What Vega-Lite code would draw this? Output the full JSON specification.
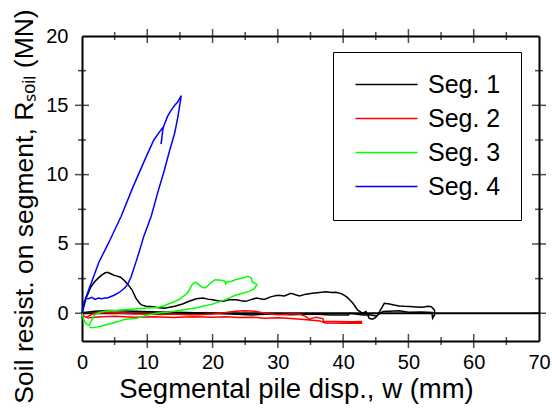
{
  "$schema": "https://vega.github.io/schema/vega-lite/v6.json",
  "width": 457,
  "height": 305,
  "autosize": {"type": "none"},
  "padding": {"left": 82, "top": 36, "right": 13, "bottom": 71},
  "background": "white",
  "datasets": {
    "frame": [{"x0": 0, "x1": 70, "z": 0}],
    "xmaj": [{"t": 10}, {"t": 20}, {"t": 30}, {"t": 40}, {"t": 50}, {"t": 60}],
    "xmin": [{"t": 5}, {"t": 15}, {"t": 25}, {"t": 35}, {"t": 45}, {"t": 55}, {"t": 65}],
    "ymaj": [{"t": 0}, {"t": 5}, {"t": 10}, {"t": 15}],
    "ymin": [{"t": 2.5}, {"t": 7.5}, {"t": 12.5}, {"t": 17.5}]
  },
  "config": {
    "view": {"stroke": null},
    "font": "Liberation Sans",
    "tick": {"color": "black", "thickness": 1.5, "clip": true},
    "axis": {
      "grid": false, "domainColor": "black", "domainWidth": 2, "ticks": false,
      "labelColor": "black", "titleColor": "black", "labelFont": "Liberation Sans", "titleFont": "Liberation Sans",
      "labelFontSize": 20, "titleFontSize": 27.5, "titleFontWeight": "normal", "labelFlush": false, "labelOverlap": false
    }
  },
  "layer": [
    {
      "data": {"name": "frame"},
      "mark": {"type": "rule", "color": "black", "strokeWidth": 2},
      "encoding": {
        "x": {"field": "x0", "type": "quantitative", "scale": {"domain": [0, 70], "nice": false, "zero": false},
          "axis": {"orient": "top", "values": [0, 70], "labels": false, "title": null}},
        "x2": {"field": "x1"},
        "y": {"field": "z", "type": "quantitative", "scale": {"domain": [-2, 20], "nice": false, "zero": false},
          "axis": {"orient": "right", "values": [0, 20], "labels": false, "title": null}}
      }
    },
    {
      "data": {"name": "xmaj"},
      "mark": {"type": "tick", "orient": "vertical", "size": 14},
      "encoding": {"x": {"field": "t", "type": "quantitative", "axis": null}, "y": {"datum": -2, "type": "quantitative", "axis": null}}
    },
    {
      "data": {"name": "xmaj"},
      "mark": {"type": "tick", "orient": "vertical", "size": 14},
      "encoding": {"x": {"field": "t", "type": "quantitative", "axis": null}, "y": {"datum": 20, "type": "quantitative", "axis": null}}
    },
    {
      "data": {"name": "xmin"},
      "mark": {"type": "tick", "orient": "vertical", "size": 8},
      "encoding": {"x": {"field": "t", "type": "quantitative", "axis": null}, "y": {"datum": -2, "type": "quantitative", "axis": null}}
    },
    {
      "data": {"name": "xmin"},
      "mark": {"type": "tick", "orient": "vertical", "size": 8},
      "encoding": {"x": {"field": "t", "type": "quantitative", "axis": null}, "y": {"datum": 20, "type": "quantitative", "axis": null}}
    },
    {
      "data": {"name": "ymaj"},
      "mark": {"type": "tick", "orient": "horizontal", "size": 14},
      "encoding": {"y": {"field": "t", "type": "quantitative", "axis": null}, "x": {"datum": 0, "type": "quantitative", "axis": null}}
    },
    {
      "data": {"name": "ymaj"},
      "mark": {"type": "tick", "orient": "horizontal", "size": 14},
      "encoding": {"y": {"field": "t", "type": "quantitative", "axis": null}, "x": {"datum": 70, "type": "quantitative", "axis": null}}
    },
    {
      "data": {"name": "ymin"},
      "mark": {"type": "tick", "orient": "horizontal", "size": 8},
      "encoding": {"y": {"field": "t", "type": "quantitative", "axis": null}, "x": {"datum": 0, "type": "quantitative", "axis": null}}
    },
    {
      "data": {"name": "ymin"},
      "mark": {"type": "tick", "orient": "horizontal", "size": 8},
      "encoding": {"y": {"field": "t", "type": "quantitative", "axis": null}, "x": {"datum": 70, "type": "quantitative", "axis": null}}
    },
    {
      "data": {"values": [
        {"s":"Seg. 1","w":0,"r":0},{"s":"Seg. 1","w":0.3,"r":0.5},{"s":"Seg. 1","w":0.6,"r":1.05},{"s":"Seg. 1","w":1.0,"r":1.5},{"s":"Seg. 1","w":1.35,"r":1.9},{"s":"Seg. 1","w":1.9,"r":2.25},{"s":"Seg. 1","w":2.4,"r":2.5},{"s":"Seg. 1","w":3.0,"r":2.75},{"s":"Seg. 1","w":3.5,"r":2.9},{"s":"Seg. 1","w":3.9,"r":2.95},{"s":"Seg. 1","w":4.4,"r":2.85},{"s":"Seg. 1","w":4.9,"r":2.74},{"s":"Seg. 1","w":5.4,"r":2.68},{"s":"Seg. 1","w":5.9,"r":2.6},{"s":"Seg. 1","w":6.4,"r":2.4},{"s":"Seg. 1","w":7.0,"r":2.1},{"s":"Seg. 1","w":7.4,"r":1.85},{"s":"Seg. 1","w":7.7,"r":1.66},{"s":"Seg. 1","w":8.0,"r":1.35},{"s":"Seg. 1","w":8.3,"r":1.05},{"s":"Seg. 1","w":8.7,"r":0.8},{"s":"Seg. 1","w":9.1,"r":0.6},{"s":"Seg. 1","w":9.8,"r":0.5},{"s":"Seg. 1","w":10.6,"r":0.48},{"s":"Seg. 1","w":11.5,"r":0.42},{"s":"Seg. 1","w":12.6,"r":0.36},{"s":"Seg. 1","w":13.4,"r":0.43},{"s":"Seg. 1","w":14.2,"r":0.5},{"s":"Seg. 1","w":15.4,"r":0.67},{"s":"Seg. 1","w":16.3,"r":0.85},{"s":"Seg. 1","w":17.5,"r":1.05},{"s":"Seg. 1","w":18.5,"r":1.1},{"s":"Seg. 1","w":19.3,"r":1.02},{"s":"Seg. 1","w":20.0,"r":0.98},{"s":"Seg. 1","w":20.8,"r":0.9},{"s":"Seg. 1","w":21.6,"r":0.86},{"s":"Seg. 1","w":22.6,"r":0.98},{"s":"Seg. 1","w":23.6,"r":0.98},{"s":"Seg. 1","w":24.4,"r":0.9},{"s":"Seg. 1","w":25.1,"r":0.86},{"s":"Seg. 1","w":26.0,"r":1.0},{"s":"Seg. 1","w":26.7,"r":1.1},{"s":"Seg. 1","w":27.9,"r":1.0},{"s":"Seg. 1","w":29.0,"r":1.2},{"s":"Seg. 1","w":30.0,"r":1.3},{"s":"Seg. 1","w":31.0,"r":1.25},{"s":"Seg. 1","w":32.0,"r":1.44},{"s":"Seg. 1","w":33.3,"r":1.25},{"s":"Seg. 1","w":34.3,"r":1.38},{"s":"Seg. 1","w":35.3,"r":1.44},{"s":"Seg. 1","w":36.4,"r":1.5},{"s":"Seg. 1","w":37.4,"r":1.56},{"s":"Seg. 1","w":38.2,"r":1.5},{"s":"Seg. 1","w":38.9,"r":1.52},{"s":"Seg. 1","w":39.8,"r":1.4},{"s":"Seg. 1","w":40.5,"r":1.2},{"s":"Seg. 1","w":41.0,"r":0.98},{"s":"Seg. 1","w":41.5,"r":0.72},{"s":"Seg. 1","w":41.9,"r":0.45},{"s":"Seg. 1","w":42.2,"r":0.24},{"s":"Seg. 1","w":43.0,"r":0.0},{"s":"Seg. 1","w":43.5,"r":0.12},{"s":"Seg. 1","w":44.0,"r":-0.36},{"s":"Seg. 1","w":44.5,"r":-0.43},{"s":"Seg. 1","w":45.0,"r":-0.3},{"s":"Seg. 1","w":45.3,"r":-0.12},{"s":"Seg. 1","w":45.8,"r":0.3},{"s":"Seg. 1","w":46.3,"r":0.72},{"s":"Seg. 1","w":47.1,"r":0.67},{"s":"Seg. 1","w":47.8,"r":0.6},{"s":"Seg. 1","w":48.6,"r":0.53},{"s":"Seg. 1","w":49.4,"r":0.5},{"s":"Seg. 1","w":50.2,"r":0.48},{"s":"Seg. 1","w":51.2,"r":0.45},{"s":"Seg. 1","w":52.2,"r":0.43},{"s":"Seg. 1","w":53.0,"r":0.5},{"s":"Seg. 1","w":53.5,"r":0.48},{"s":"Seg. 1","w":54.0,"r":0.24},{"s":"Seg. 1","w":54.0,"r":-0.12},{"s":"Seg. 1","w":53.7,"r":-0.36},{"s":"Seg. 1","w":53.6,"r":0.05},{"s":"Seg. 1","w":52.0,"r":0.1},{"s":"Seg. 1","w":50.0,"r":0.08},{"s":"Seg. 1","w":48.6,"r":0.19},{"s":"Seg. 1","w":46.1,"r":0.12},{"s":"Seg. 1","w":45.1,"r":-0.19},{"s":"Seg. 1","w":44.0,"r":-0.1},{"s":"Seg. 1","w":43.0,"r":-0.12},{"s":"Seg. 1","w":41.0,"r":0.0},{"s":"Seg. 1","w":40.8,"r":-0.12},{"s":"Seg. 1","w":38.4,"r":-0.12},{"s":"Seg. 1","w":35.0,"r":-0.05},{"s":"Seg. 1","w":32.0,"r":-0.1},{"s":"Seg. 1","w":29.0,"r":-0.05},{"s":"Seg. 1","w":26.0,"r":-0.12},{"s":"Seg. 1","w":23.0,"r":-0.05},{"s":"Seg. 1","w":20.0,"r":0.0},{"s":"Seg. 1","w":16.0,"r":0.05},{"s":"Seg. 1","w":12.0,"r":0.1},{"s":"Seg. 1","w":8.0,"r":0.15},{"s":"Seg. 1","w":4.0,"r":0.2},{"s":"Seg. 1","w":2.0,"r":0.15},{"s":"Seg. 1","w":1.0,"r":0.1},{"s":"Seg. 1","w":0.3,"r":0.05},
        {"s":"Seg. 2","w":0,"r":0},{"s":"Seg. 2","w":0.3,"r":-0.2},{"s":"Seg. 2","w":0.6,"r":-0.3},{"s":"Seg. 2","w":1.0,"r":-0.2},{"s":"Seg. 2","w":1.6,"r":-0.05},{"s":"Seg. 2","w":2.5,"r":0.0},{"s":"Seg. 2","w":4,"r":0.05},{"s":"Seg. 2","w":6,"r":0.0},{"s":"Seg. 2","w":8,"r":-0.05},{"s":"Seg. 2","w":10,"r":-0.05},{"s":"Seg. 2","w":12,"r":-0.08},{"s":"Seg. 2","w":14,"r":-0.05},{"s":"Seg. 2","w":16,"r":-0.1},{"s":"Seg. 2","w":18,"r":-0.1},{"s":"Seg. 2","w":20,"r":-0.05},{"s":"Seg. 2","w":22,"r":0.05},{"s":"Seg. 2","w":23.5,"r":0.15},{"s":"Seg. 2","w":25,"r":0.18},{"s":"Seg. 2","w":26.5,"r":0.15},{"s":"Seg. 2","w":28,"r":0.0},{"s":"Seg. 2","w":30,"r":-0.1},{"s":"Seg. 2","w":32,"r":-0.05},{"s":"Seg. 2","w":33.3,"r":-0.05},{"s":"Seg. 2","w":34.3,"r":-0.24},{"s":"Seg. 2","w":34.8,"r":-0.43},{"s":"Seg. 2","w":35.3,"r":-0.35},{"s":"Seg. 2","w":35.9,"r":-0.29},{"s":"Seg. 2","w":36.9,"r":-0.38},{"s":"Seg. 2","w":37.0,"r":-0.6},{"s":"Seg. 2","w":39,"r":-0.6},{"s":"Seg. 2","w":41,"r":-0.62},{"s":"Seg. 2","w":42.8,"r":-0.6},{"s":"Seg. 2","w":42.8,"r":-0.72},{"s":"Seg. 2","w":40,"r":-0.72},{"s":"Seg. 2","w":37.2,"r":-0.7},{"s":"Seg. 2","w":36.5,"r":-0.55},{"s":"Seg. 2","w":34,"r":-0.45},{"s":"Seg. 2","w":32,"r":-0.38},{"s":"Seg. 2","w":30,"r":-0.32},{"s":"Seg. 2","w":28,"r":-0.35},{"s":"Seg. 2","w":26,"r":-0.28},{"s":"Seg. 2","w":24,"r":-0.3},{"s":"Seg. 2","w":22,"r":-0.25},{"s":"Seg. 2","w":20,"r":-0.28},{"s":"Seg. 2","w":17,"r":-0.25},{"s":"Seg. 2","w":14,"r":-0.3},{"s":"Seg. 2","w":11,"r":-0.25},{"s":"Seg. 2","w":8,"r":-0.28},{"s":"Seg. 2","w":5,"r":-0.22},{"s":"Seg. 2","w":3,"r":-0.25},{"s":"Seg. 2","w":1.5,"r":-0.3},{"s":"Seg. 2","w":0.8,"r":-0.35},
        {"s":"Seg. 3","w":0,"r":0},{"s":"Seg. 3","w":0.3,"r":-0.5},{"s":"Seg. 3","w":0.6,"r":-0.75},{"s":"Seg. 3","w":1.1,"r":-0.87},{"s":"Seg. 3","w":1.6,"r":-0.39},{"s":"Seg. 3","w":2.0,"r":-0.1},{"s":"Seg. 3","w":2.4,"r":0.0},{"s":"Seg. 3","w":3.4,"r":0.14},{"s":"Seg. 3","w":4.4,"r":0.2},{"s":"Seg. 3","w":5.4,"r":0.22},{"s":"Seg. 3","w":7,"r":0.28},{"s":"Seg. 3","w":8.5,"r":0.33},{"s":"Seg. 3","w":10,"r":0.38},{"s":"Seg. 3","w":11.5,"r":0.42},{"s":"Seg. 3","w":12.5,"r":0.52},{"s":"Seg. 3","w":13.4,"r":0.7},{"s":"Seg. 3","w":14.2,"r":0.85},{"s":"Seg. 3","w":14.9,"r":1.0},{"s":"Seg. 3","w":15.6,"r":1.25},{"s":"Seg. 3","w":16.2,"r":1.5},{"s":"Seg. 3","w":16.6,"r":1.85},{"s":"Seg. 3","w":17.0,"r":2.15},{"s":"Seg. 3","w":17.4,"r":2.25},{"s":"Seg. 3","w":17.8,"r":2.1},{"s":"Seg. 3","w":18.3,"r":1.9},{"s":"Seg. 3","w":18.8,"r":1.82},{"s":"Seg. 3","w":19.2,"r":1.95},{"s":"Seg. 3","w":19.7,"r":2.2},{"s":"Seg. 3","w":20.4,"r":2.42},{"s":"Seg. 3","w":21.3,"r":2.38},{"s":"Seg. 3","w":21.9,"r":2.3},{"s":"Seg. 3","w":22.0,"r":2.12},{"s":"Seg. 3","w":22.3,"r":2.28},{"s":"Seg. 3","w":22.8,"r":2.3},{"s":"Seg. 3","w":23.6,"r":2.43},{"s":"Seg. 3","w":24.6,"r":2.55},{"s":"Seg. 3","w":25.0,"r":2.6},{"s":"Seg. 3","w":25.4,"r":2.67},{"s":"Seg. 3","w":25.9,"r":2.55},{"s":"Seg. 3","w":26.1,"r":2.26},{"s":"Seg. 3","w":26.8,"r":2.08},{"s":"Seg. 3","w":26.4,"r":1.77},{"s":"Seg. 3","w":25.6,"r":1.58},{"s":"Seg. 3","w":24.6,"r":1.45},{"s":"Seg. 3","w":23.6,"r":1.32},{"s":"Seg. 3","w":22.1,"r":1.0},{"s":"Seg. 3","w":20.0,"r":0.66},{"s":"Seg. 3","w":17.5,"r":0.4},{"s":"Seg. 3","w":14.9,"r":0.2},{"s":"Seg. 3","w":13.4,"r":0.1},{"s":"Seg. 3","w":11.6,"r":0.02},{"s":"Seg. 3","w":10,"r":-0.12},{"s":"Seg. 3","w":8.5,"r":-0.35},{"s":"Seg. 3","w":6.5,"r":-0.45},{"s":"Seg. 3","w":5.5,"r":-0.6},{"s":"Seg. 3","w":4.4,"r":-0.75},{"s":"Seg. 3","w":3.5,"r":-0.85},{"s":"Seg. 3","w":2.8,"r":-0.95},{"s":"Seg. 3","w":2.2,"r":-1.0},{"s":"Seg. 3","w":1.6,"r":-1.05},{"s":"Seg. 3","w":1.1,"r":-1.0},
        {"s":"Seg. 4","w":0,"r":0},{"s":"Seg. 4","w":0.15,"r":0.4},{"s":"Seg. 4","w":0.33,"r":0.8},{"s":"Seg. 4","w":0.6,"r":1.1},{"s":"Seg. 4","w":1.0,"r":1.05},{"s":"Seg. 4","w":1.5,"r":1.15},{"s":"Seg. 4","w":2.0,"r":1.0},{"s":"Seg. 4","w":2.5,"r":1.1},{"s":"Seg. 4","w":3.0,"r":1.05},{"s":"Seg. 4","w":3.5,"r":1.1},{"s":"Seg. 4","w":3.9,"r":1.1},{"s":"Seg. 4","w":4.9,"r":1.3},{"s":"Seg. 4","w":5.7,"r":1.5},{"s":"Seg. 4","w":6.5,"r":1.8},{"s":"Seg. 4","w":7.0,"r":2.1},{"s":"Seg. 4","w":7.5,"r":2.6},{"s":"Seg. 4","w":8.2,"r":3.6},{"s":"Seg. 4","w":8.8,"r":4.5},{"s":"Seg. 4","w":9.5,"r":5.6},{"s":"Seg. 4","w":10.6,"r":7.0},{"s":"Seg. 4","w":11.6,"r":8.7},{"s":"Seg. 4","w":12.6,"r":10.3},{"s":"Seg. 4","w":13.4,"r":11.7},{"s":"Seg. 4","w":14.2,"r":13.0},{"s":"Seg. 4","w":14.7,"r":14.2},{"s":"Seg. 4","w":15.2,"r":15.7},{"s":"Seg. 4","w":14.6,"r":15.2},{"s":"Seg. 4","w":14.2,"r":15.0},{"s":"Seg. 4","w":13.6,"r":14.6},{"s":"Seg. 4","w":13.1,"r":14.2},{"s":"Seg. 4","w":12.6,"r":13.6},{"s":"Seg. 4","w":12.4,"r":13.3},{"s":"Seg. 4","w":12.1,"r":12.2},{"s":"Seg. 4","w":12.2,"r":12.5},{"s":"Seg. 4","w":12.4,"r":13.4},{"s":"Seg. 4","w":12.2,"r":13.3},{"s":"Seg. 4","w":11.0,"r":12.5},{"s":"Seg. 4","w":9.6,"r":11.05},{"s":"Seg. 4","w":7.8,"r":9.1},{"s":"Seg. 4","w":6.0,"r":7.0},{"s":"Seg. 4","w":4.0,"r":5.0},{"s":"Seg. 4","w":2.6,"r":3.7},{"s":"Seg. 4","w":1.5,"r":2.3},{"s":"Seg. 4","w":0.8,"r":1.4},{"s":"Seg. 4","w":0.33,"r":0.8},{"s":"Seg. 4","w":0,"r":0}
      ]},
      "mark": {"type": "line", "strokeWidth": 1.5},
      "encoding": {
        "x": {"field": "w", "type": "quantitative", "scale": {"domain": [0, 70], "nice": false, "zero": false},
          "axis": {"orient": "bottom", "values": [0,10,20,30,40,50,60,70], "labelPadding": 11,
            "title": "Segmental pile disp., w (mm)", "titleX": 214, "titleY": 56, "titleBaseline": "alphabetic"}},
        "y": {"field": "r", "type": "quantitative", "scale": {"domain": [-2, 20], "nice": false, "zero": false},
          "axis": {"orient": "left", "values": [0,5,10,15,20], "labelPadding": 14, "titleFontSize": 26.5,
            "title": "Soil resist. on segment, Rₛₒᵢₗ (MN)", "titleX": -50, "titleY": 170, "titleBaseline": "alphabetic", "titleAlign": "center"}},
        "color": {"field": "s", "type": "nominal",
          "scale": {"domain": ["Seg. 1", "Seg. 2", "Seg. 3", "Seg. 4"], "range": ["#000000", "#ff0000", "#00ff00", "#0000ff"]},
          "legend": {"orient": "none", "legendX": 251, "legendY": 16, "title": null, "strokeColor": "black", "fillColor": "white",
            "padding": 20, "symbolType": "M-3.1,0H3.1", "symbolSize": 400, "symbolStrokeWidth": 1.5, "symbolOffset": 21,
            "labelOffset": 29, "labelFontSize": 25, "labelFont": "Liberation Sans", "labelColor": "black", "rowPadding": 8, "direction": "vertical"}},
        "order": {"value": null}
      }
    }
  ],
  "resolve": {"axis": {"x": "independent", "y": "independent"}}
}
